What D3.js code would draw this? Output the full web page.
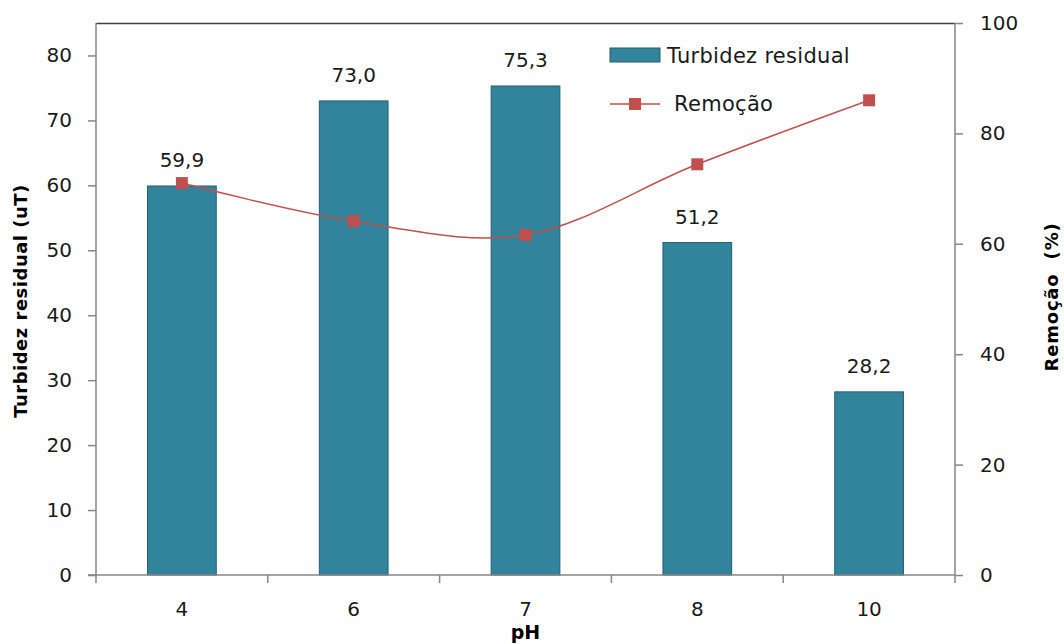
<!DOCTYPE html>
<html><head><meta charset="utf-8">
<script src="https://cdn.jsdelivr.net/npm/d3@7"></script>
<style>body{margin:0;background:#fff}svg{display:block}text{font-family:"DejaVu Sans",Verdana,sans-serif}</style>
</head><body>
<svg id="c" width="1064" height="644"></svg>
<script>
const categories = ["4","6","7","8","10"];
const turbidez = [59.9, 73.0, 75.3, 51.2, 28.2];
const remocao = [71.0, 64.1, 61.6, 74.4, 86.0];
const leftTicks = [0,10,20,30,40,50,60,70,80];
const rightTicks = [0,20,40,60,80,100];

const svg = d3.select("#c");
const m = {l:96, r:955, t:23, b:575};
const x = d3.scaleBand().domain(categories).range([m.l, m.r]).paddingInner(0.6).paddingOuter(0.3);
const xb = d3.scaleBand().domain(categories).range([m.l, m.r]);
const yL = d3.scaleLinear().domain([0,85]).range([m.b, m.t]);
const yR = d3.scaleLinear().domain([0,100]).range([m.b, m.t]);
const fmt = v => v.toFixed(1).replace(".", ",");
const txt = "#1a1a1a";

// top border
svg.append("line").attr("x1",m.l).attr("x2",m.r).attr("y1",m.t+0.5).attr("y2",m.t+0.5).attr("stroke","#404040").attr("stroke-width",1.5);

// bars
svg.selectAll("rect.bar").data(turbidez).join("rect").attr("class","bar")
  .attr("x",(d,i)=>x(categories[i])).attr("width",x.bandwidth())
  .attr("y",d=>yL(d)).attr("height",d=>yL(0)-yL(d))
  .attr("fill","#31849B").attr("stroke","#245F70").attr("stroke-width",1);

// bar labels
svg.selectAll("text.lbl").data(turbidez).join("text").attr("class","lbl")
  .attr("x",(d,i)=>x(categories[i])+x.bandwidth()/2).attr("y",d=>yL(d)-19)
  .attr("text-anchor","middle").attr("font-size",20).attr("fill",txt).text(fmt);

// axes
const gL = svg.append("g").attr("transform",`translate(${m.l},0)`)
  .call(d3.axisLeft(yL).tickValues(leftTicks).tickSize(8).tickPadding(16).tickFormat(d3.format("d")));
const gR = svg.append("g").attr("transform",`translate(${m.r},0)`)
  .call(d3.axisRight(yR).tickValues(rightTicks).tickSize(8).tickPadding(17).tickFormat(d3.format("d")));
const gX = svg.append("g").attr("transform",`translate(0,${m.b})`)
  .call(d3.axisBottom(xb).tickSize(0).tickPadding(27));
// x boundary ticks
svg.selectAll("line.xt").data(categories.map(c=>xb(c)).concat([m.r])).join("line").attr("class","xt")
  .attr("x1",d=>d).attr("x2",d=>d).attr("y1",m.b).attr("y2",m.b+8).attr("stroke","#868686").attr("stroke-width",1.5);
[gL,gR,gX].forEach(g=>{
  g.select(".domain").attr("stroke","#868686").attr("stroke-width",1.5);
  g.selectAll(".tick line").attr("stroke","#868686").attr("stroke-width",1.5);
  g.selectAll(".tick text").attr("font-size",20).attr("fill",txt).attr("font-family","DejaVu Sans");
});
gL.select(".domain").attr("d",`M0,${m.t}V${m.b}`);
gR.select(".domain").attr("d",`M0,${m.t}V${m.b}`);
gX.select(".domain").attr("d",`M${m.l-8},0H${m.r}`);

// line
const line = d3.line().x((d,i)=>xb(categories[i])+xb.bandwidth()/2).y(d=>yR(d)).curve(d3.curveCardinal.tension(0));
svg.append("path").datum(remocao).attr("d",line).attr("fill","none").attr("stroke","#C0504D").attr("stroke-width",1.5);
svg.selectAll("rect.mk").data(remocao).join("rect").attr("class","mk")
  .attr("x",(d,i)=>xb(categories[i])+xb.bandwidth()/2-6).attr("y",d=>yR(d)-6)
  .attr("width",12).attr("height",12).attr("fill","#C0504D");

// axis titles
svg.append("text").attr("transform","translate(27,301) rotate(-90)").attr("text-anchor","middle")
  .attr("font-size",18).attr("font-weight","bold").attr("letter-spacing",0.5).attr("fill","#000").text("Turbidez residual (uT)");
svg.append("text").attr("transform","translate(1058,297) rotate(-90)").attr("text-anchor","middle")
  .attr("font-size",18).attr("font-weight","bold").attr("letter-spacing",0.8).attr("fill","#000")
  .style("white-space","pre").text("Remoção  (%)");
svg.append("text").attr("x",(m.l+m.r)/2).attr("y",639).attr("text-anchor","middle")
  .attr("font-size",19).attr("font-weight","bold").attr("fill","#000").text("pH");

// legend
const lg = svg.append("g");
lg.append("rect").attr("x",610).attr("y",48).attr("width",50).attr("height",14).attr("fill","#31849B").attr("stroke","#245F70");
lg.append("text").attr("x",667).attr("y",63).attr("font-size",21).attr("letter-spacing",0.3).attr("fill",txt).text("Turbidez residual");
lg.append("line").attr("x1",610).attr("x2",660).attr("y1",104).attr("y2",104).attr("stroke","#C0504D").attr("stroke-width",1.5);
lg.append("rect").attr("x",629).attr("y",98).attr("width",12).attr("height",12).attr("fill","#C0504D");
lg.append("text").attr("x",674).attr("y",111).attr("font-size",21).attr("letter-spacing",0.3).attr("fill",txt).text("Remoção");
</script>
</body></html>
